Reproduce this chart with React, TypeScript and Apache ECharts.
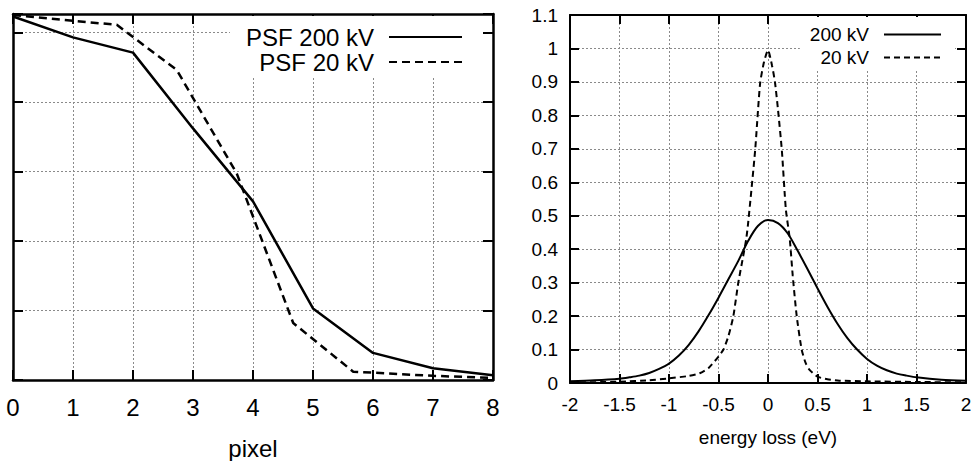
import React, { useEffect, useRef } from "react";
import * as echarts from "echarts";

// Left panel: PSF vs pixel
const psfX200 = [0, 1, 2, 3, 4, 5, 6, 7, 8];
const psf200 = [5.23, 4.93, 4.71, 3.62, 2.57, 1.03, 0.39, 0.17, 0.07];
const psfX20 = [0, 1.73, 2.73, 3.73, 4.67, 5.67, 7, 8];
const psf20 = [5.25, 5.11, 4.46, 2.97, 0.82, 0.12, 0.06, 0.03];
const pixelTicks = [0, 8, 1];

// Right panel: energy loss spectra
const eX200 = [-2, -1.75, -1.5, -1.4, -1.3, -1.2, -1.1, -1, -0.9, -0.8, -0.7, -0.6, -0.5, -0.4, -0.3, -0.2, -0.1, 0, 0.1, 0.2, 0.3, 0.4, 0.5, 0.6, 0.7, 0.8, 0.9, 1, 1.1, 1.2, 1.3, 1.4, 1.5, 1.75, 2];
const e200 = [0.005, 0.008, 0.013, 0.017, 0.022, 0.03, 0.042, 0.058, 0.082, 0.114, 0.155, 0.203, 0.255, 0.31, 0.365, 0.425, 0.47, 0.487, 0.478, 0.447, 0.395, 0.34, 0.283, 0.228, 0.178, 0.135, 0.1, 0.072, 0.052, 0.038, 0.028, 0.022, 0.017, 0.01, 0.007];
const eX20 = [-2, -1.5, -1.2, -1, -0.8, -0.69, -0.6, -0.5, -0.45, -0.4, -0.35, -0.3, -0.25, -0.22, -0.2, -0.13, -0.08, -0.04, 0, 0.04, 0.07, 0.1, 0.14, 0.18, 0.22, 0.25, 0.29, 0.34, 0.38, 0.42, 0.5, 0.6, 0.72, 1, 1.5, 2];
const e20 = [0.001, 0.004, 0.008, 0.014, 0.021, 0.029, 0.045, 0.079, 0.1, 0.14, 0.2, 0.3, 0.38, 0.43, 0.48, 0.695, 0.895, 0.96, 0.995, 0.95, 0.9, 0.82, 0.695, 0.52, 0.43, 0.32, 0.2, 0.1, 0.06, 0.039, 0.019, 0.011, 0.007, 0.005, 0.003, 0.002];
const energyTicks = [-2, 2, 0.5];
const intensityTicks = [0, 1.1, 0.1];

const FONT = "'Liberation Sans', Arial, Helvetica, sans-serif";

const pairs = (xs: number[], ys: number[]) => xs.map((x, i) => [x, ys[i]]);

export default function App() {
  const ref = useRef<HTMLDivElement>(null);
  useEffect(() => {
    if (!ref.current) return;
    const chart = echarts.init(ref.current, null, { renderer: "svg" });

    const frame = (w: number) => ({ show: true, onZero: false, lineStyle: { color: "#000", width: w } });
    const ticks = (len: number, w: number) => ({ show: true, inside: true, length: len, lineStyle: { color: "#000", width: w } });
    const grid = { show: true, lineStyle: { color: "#8a8a8a", width: 1, type: [2, 2] } };

    const option: any = {
      animation: false,
      backgroundColor: "#fff",
      textStyle: { fontFamily: FONT, color: "#000" },
      grid: [
        { left: 13, top: 14, width: 480, height: 366, outerBoundsMode: "none", containLabel: false },
        { left: 570, top: 15, width: 396, height: 368, outerBoundsMode: "none", containLabel: false },
      ],
      legend: [
        {
          data: ["PSF 200 kV", "PSF 20 kV"],
          orient: "vertical",
          align: "right",
          right: 492,
          top: 16,
          itemWidth: 73,
          itemHeight: 14,
          itemGap: 1,
          padding: [9, 20, 3, 16],
          backgroundColor: "#fff",
          selectedMode: false,
          itemStyle: { opacity: 0 },
          textStyle: { fontSize: 24, color: "#000", fontFamily: FONT, padding: [0, 10, 0, 0] },
        },
        {
          data: ["200 kV", "20 kV"],
          orient: "vertical",
          align: "right",
          right: 20,
          top: 17,
          itemWidth: 57,
          itemHeight: 14,
          itemGap: 4,
          padding: [8, 13, 3, 10],
          backgroundColor: "#fff",
          selectedMode: false,
          itemStyle: { opacity: 0 },
          textStyle: { fontSize: 19, color: "#000", fontFamily: FONT, padding: [0, 10, 0, 0] },
        },
      ],
      xAxis: [
        {
          gridIndex: 0, type: "value", position: "bottom",
          min: pixelTicks[0], max: pixelTicks[1], interval: pixelTicks[2],
          axisLine: frame(2.5), axisTick: ticks(10, 2),
          axisLabel: { fontSize: 24, margin: 15, color: "#000", fontFamily: FONT },
          splitLine: grid,
          name: "pixel", nameLocation: "middle", nameGap: 56,
          nameTextStyle: { fontSize: 24, color: "#000", fontFamily: FONT },
        },
        {
          gridIndex: 0, type: "value", position: "top",
          min: pixelTicks[0], max: pixelTicks[1], interval: pixelTicks[2],
          axisLine: frame(2.5), axisTick: ticks(10, 2), axisLabel: { show: false }, splitLine: { show: false },
        },
        {
          gridIndex: 1, type: "value", position: "bottom",
          min: energyTicks[0], max: energyTicks[1], interval: energyTicks[2],
          axisLine: frame(2), axisTick: ticks(9, 2),
          axisLabel: { fontSize: 19, margin: 12, color: "#000", fontFamily: FONT },
          splitLine: grid,
          name: "energy loss (eV)", nameLocation: "middle", nameGap: 45,
          nameTextStyle: { fontSize: 19, color: "#000", fontFamily: FONT },
        },
        {
          gridIndex: 1, type: "value", position: "top",
          min: energyTicks[0], max: energyTicks[1], interval: energyTicks[2],
          axisLine: frame(2), axisTick: ticks(9, 2), axisLabel: { show: false }, splitLine: { show: false },
        },
      ],
      yAxis: [
        {
          gridIndex: 0, type: "value", position: "left",
          min: 0, max: 5.266, interval: 1,
          axisLine: frame(2.5), axisTick: ticks(10, 2), axisLabel: { show: false }, splitLine: grid,
        },
        {
          gridIndex: 0, type: "value", position: "right",
          min: 0, max: 5.266, interval: 1,
          axisLine: frame(2.5), axisTick: ticks(10, 2), axisLabel: { show: false }, splitLine: { show: false },
        },
        {
          gridIndex: 1, type: "value", position: "left",
          min: intensityTicks[0], max: intensityTicks[1], interval: intensityTicks[2],
          axisLine: frame(2), axisTick: ticks(9, 2),
          axisLabel: { fontSize: 19, margin: 12, color: "#000", fontFamily: FONT },
          splitLine: grid,
        },
        {
          gridIndex: 1, type: "value", position: "right",
          min: intensityTicks[0], max: intensityTicks[1], interval: intensityTicks[2],
          axisLine: frame(2), axisTick: ticks(9, 2), axisLabel: { show: false }, splitLine: { show: false },
        },
      ],
      series: [
        {
          name: "PSF 200 kV", type: "line", xAxisIndex: 0, yAxisIndex: 0,
          data: pairs(psfX200, psf200), symbol: "none", color: "#000",
          lineStyle: { color: "#000", width: 2.5, type: "solid" },
        },
        {
          name: "PSF 20 kV", type: "line", xAxisIndex: 0, yAxisIndex: 0,
          data: pairs(psfX20, psf20), symbol: "none", color: "#000",
          lineStyle: { color: "#000", width: 2.5, type: [8, 5] },
        },
        {
          name: "200 kV", type: "line", xAxisIndex: 2, yAxisIndex: 2,
          data: pairs(eX200, e200), symbol: "none", color: "#000", smooth: 0.3,
          lineStyle: { color: "#000", width: 2, type: "solid" },
        },
        {
          name: "20 kV", type: "line", xAxisIndex: 2, yAxisIndex: 2,
          data: pairs(eX20, e20), symbol: "none", color: "#000", smooth: 0.2,
          lineStyle: { color: "#000", width: 2, type: [6, 4] },
        },
      ],
    };

    chart.setOption(option);
    return () => chart.dispose();
  }, []);

  return (
    <div
      ref={ref}
      style={{ position: "absolute", left: 0, top: 0, width: 975, height: 461, background: "#fff" }}
    />
  );
}
